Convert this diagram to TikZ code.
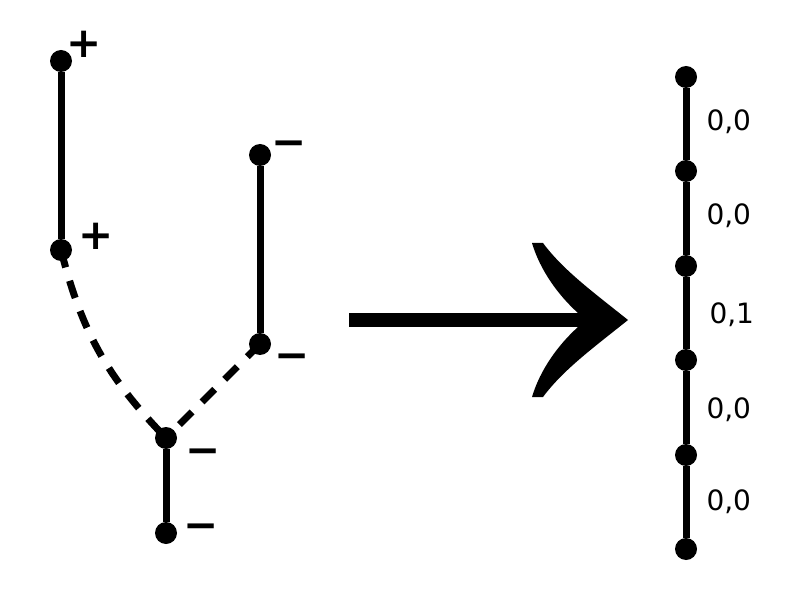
\documentclass[tikz,border=0pt]{standalone}
\usepackage{fontspec}
\setsansfont{DejaVu Sans}
\usepackage{tikz}

\begin{document}
\begin{tikzpicture}[x=1pt,y=-1pt,
        dot/.style={circle,fill,inner sep=0pt,minimum size=22pt},
        link/.style={line width=7pt},
        cut/.style={line width=7pt,dash pattern=on 18pt off 14pt},
        sign/.style={font=\sffamily\bfseries\fontsize{42}{42}\selectfont,inner sep=0pt},
        weight/.style={font=\sffamily\fontsize{28}{28}\selectfont,anchor=west,inner sep=0pt,xshift=17pt}]
    \useasboundingbox (0,0) rectangle (786,609);

    % tree on the left
    \node[dot] (a) at (61,61) {};
    \node[dot] (b) at (61,250) {};
    \node[dot] (c) at (260,155) {};
    \node[dot] (d) at (260,344) {};
    \node[dot] (e) at (166,438) {};
    \node[dot] (f) at (166,533) {};
    \draw[link] (a) -- (b);
    \draw[link] (c) -- (d);
    \draw[link] (e) -- (f);
    \draw[cut] (b.center) to[bend right=15] (e.center);
    \draw[cut] (d.center) -- (e.center);

    \node[sign] (sa) at (84,44) {+};
    \node[sign] (sb) at (96,236) {+};
    \node[sign] (sc) at (289,149) {−};
    \node[sign] (sd) at (292,362) {−};
    \node[sign] (se) at (203,457) {−};
    \node[sign] (sf) at (201,532) {−};

    % big arrow
    \coordinate (from) at (349,320);
    \coordinate (tip) at (628,320);
    \draw[line width=14pt] (from) -- ([xshift=-46pt]tip);
    \fill[shift={(tip)}] (0,0) .. controls (-35,-28) and (-65,-50) .. (-85,-77) -- (-96,-77)
        .. controls (-88,-50) and (-70,-25) .. (-50,-7) -- (-50,7)
        .. controls (-70,25) and (-88,50) .. (-96,77) -- (-85,77)
        .. controls (-65,50) and (-35,28) .. (0,0) -- cycle;

    % chain on the right
    \node[dot] (r1) at (686,77) {};
    \node[dot] (r2) at (686,171) {};
    \node[dot] (r3) at (686,266) {};
    \node[dot] (r4) at (686,360) {};
    \node[dot] (r5) at (686,455) {};
    \node[dot] (r6) at (686,549) {};
    \draw[link] (r1) -- node[weight,yshift=2pt] (w1) {0,0} (r2);
    \draw[link] (r2) -- node[weight,yshift=3pt] (w2) {0,0} (r3);
    \draw[link] (r3) -- node[weight,xshift=3pt,yshift=-2pt] (w3) {0,1} (r4);
    \draw[link] (r4) -- node[weight,yshift=-2pt] (w4) {0,0} (r5);
    \draw[link] (r5) -- node[weight] (w5) {0,0} (r6);
\end{tikzpicture}
\end{document}
